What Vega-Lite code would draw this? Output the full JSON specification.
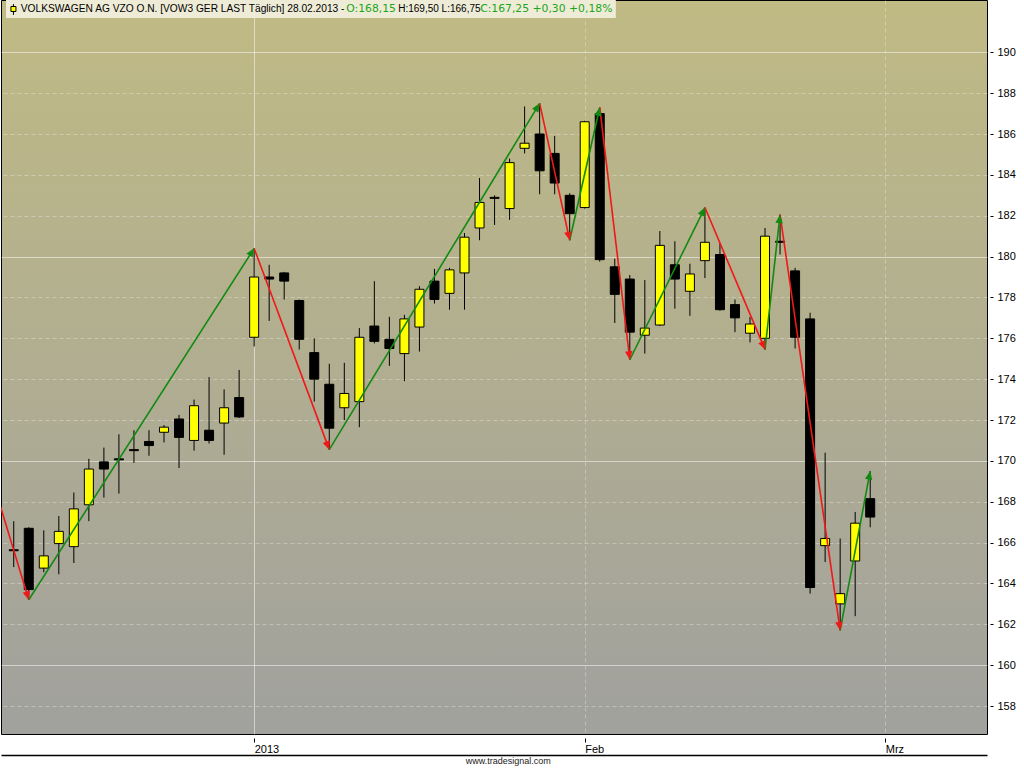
{
  "$schema": "https://vega.github.io/schema/vega-lite/v6.json",
  "width": 986,
  "height": 734,
  "padding": {"left": 1, "top": 0, "right": 0, "bottom": 0},
  "background": "#ffffff",
  "config": {
    "font": "Liberation Sans",
    "view": {
      "fill": {
        "gradient": "linear",
        "x1": 0, "y1": 0, "x2": 0, "y2": 1,
        "stops": [
          {"offset": 0, "color": "#c0ba84"},
          {"offset": 1, "color": "#a1a19e"}
        ]
      },
      "stroke": "#000000",
      "strokeWidth": 1
    }
  },
  "title": {
    "text": "www.tradesignal.com",
    "orient": "bottom",
    "anchor": "middle",
    "frame": "bounds",
    "fontSize": 9,
    "fontWeight": "normal",
    "color": "#222222",
    "baseline": "top",
    "offset": 2
  },
  "resolve": {"axis": {"x": "independent"}},
  "datasets": {
    "candles": [
      {"i": 0, "d": "2012-12-04", "o": 165.65, "h": 167.05, "l": 164.8, "c": 165.6},
      {"i": 1, "d": "2012-12-05", "o": 166.7, "h": 166.75, "l": 163.2, "c": 163.7},
      {"i": 2, "d": "2012-12-06", "o": 164.75, "h": 166.6, "l": 164.55, "c": 165.35},
      {"i": 3, "d": "2012-12-07", "o": 165.95, "h": 167.3, "l": 164.45, "c": 166.55},
      {"i": 4, "d": "2012-12-10", "o": 165.8, "h": 168.45, "l": 165.0, "c": 167.65},
      {"i": 5, "d": "2012-12-11", "o": 167.85, "h": 170.1, "l": 167.05, "c": 169.6},
      {"i": 6, "d": "2012-12-12", "o": 169.95, "h": 170.65, "l": 168.2, "c": 169.6},
      {"i": 7, "d": "2012-12-13", "o": 170.1, "h": 171.3, "l": 168.4, "c": 170.05},
      {"i": 8, "d": "2012-12-14", "o": 170.55, "h": 171.5, "l": 169.9, "c": 170.5},
      {"i": 9, "d": "2012-12-17", "o": 170.95, "h": 171.5, "l": 170.25, "c": 170.75},
      {"i": 10, "d": "2012-12-18", "o": 171.4, "h": 171.75, "l": 170.9, "c": 171.65},
      {"i": 11, "d": "2012-12-19", "o": 172.05, "h": 172.25, "l": 169.65, "c": 171.15},
      {"i": 12, "d": "2012-12-20", "o": 171.0, "h": 173.0, "l": 170.5, "c": 172.7},
      {"i": 13, "d": "2012-12-21", "o": 171.5, "h": 174.1, "l": 170.85, "c": 171.0},
      {"i": 14, "d": "2012-12-27", "o": 171.85, "h": 173.5, "l": 170.3, "c": 172.6},
      {"i": 15, "d": "2012-12-28", "o": 173.1, "h": 174.45, "l": 172.1, "c": 172.15},
      {"i": 16, "d": "2013-01-02", "o": 176.05, "h": 180.4, "l": 175.6, "c": 179.0},
      {"i": 17, "d": "2013-01-03", "o": 179.0, "h": 179.6, "l": 176.85, "c": 178.9},
      {"i": 18, "d": "2013-01-04", "o": 179.2, "h": 179.25, "l": 177.9, "c": 178.8},
      {"i": 19, "d": "2013-01-07", "o": 177.85, "h": 177.9, "l": 175.45, "c": 175.95},
      {"i": 20, "d": "2013-01-08", "o": 175.3, "h": 176.0, "l": 172.9, "c": 174.0},
      {"i": 21, "d": "2013-01-09", "o": 173.75, "h": 174.75, "l": 170.55, "c": 171.6},
      {"i": 22, "d": "2013-01-10", "o": 172.6, "h": 174.8, "l": 172.0, "c": 173.3},
      {"i": 23, "d": "2013-01-11", "o": 172.9, "h": 176.5, "l": 171.65, "c": 176.05},
      {"i": 24, "d": "2013-01-14", "o": 176.6, "h": 178.8, "l": 175.75, "c": 175.85},
      {"i": 25, "d": "2013-01-15", "o": 175.95, "h": 177.05, "l": 174.65, "c": 175.5},
      {"i": 26, "d": "2013-01-16", "o": 175.25, "h": 177.15, "l": 173.9, "c": 176.95},
      {"i": 27, "d": "2013-01-17", "o": 176.55, "h": 178.55, "l": 175.35, "c": 178.4},
      {"i": 28, "d": "2013-01-18", "o": 178.8, "h": 179.4, "l": 177.7, "c": 177.9},
      {"i": 29, "d": "2013-01-21", "o": 178.2, "h": 179.45, "l": 177.4, "c": 179.35},
      {"i": 30, "d": "2013-01-22", "o": 179.2, "h": 181.15, "l": 177.4, "c": 180.95},
      {"i": 31, "d": "2013-01-23", "o": 181.4, "h": 183.85, "l": 180.8, "c": 182.65},
      {"i": 32, "d": "2013-01-24", "o": 182.9, "h": 183.0, "l": 181.55, "c": 182.85},
      {"i": 33, "d": "2013-01-25", "o": 182.35, "h": 184.8, "l": 181.8, "c": 184.6},
      {"i": 34, "d": "2013-01-28", "o": 185.3, "h": 187.35, "l": 185.05, "c": 185.55},
      {"i": 35, "d": "2013-01-29", "o": 186.0, "h": 187.5, "l": 183.05, "c": 184.2},
      {"i": 36, "d": "2013-01-30", "o": 185.05, "h": 185.9, "l": 183.05, "c": 183.6},
      {"i": 37, "d": "2013-01-31", "o": 183.0, "h": 183.1, "l": 180.8, "c": 182.1},
      {"i": 38, "d": "2013-02-01", "o": 182.4, "h": 186.65, "l": 182.35, "c": 186.6},
      {"i": 39, "d": "2013-02-04", "o": 187.0, "h": 187.3, "l": 179.75, "c": 179.85},
      {"i": 40, "d": "2013-02-05", "o": 179.5, "h": 179.9, "l": 176.75, "c": 178.15},
      {"i": 41, "d": "2013-02-06", "o": 178.9, "h": 179.1, "l": 174.95, "c": 176.3},
      {"i": 42, "d": "2013-02-07", "o": 176.15, "h": 178.85, "l": 175.25, "c": 176.5},
      {"i": 43, "d": "2013-02-08", "o": 176.65, "h": 181.25, "l": 176.6, "c": 180.55},
      {"i": 44, "d": "2013-02-11", "o": 179.6, "h": 180.75, "l": 177.45, "c": 178.9},
      {"i": 45, "d": "2013-02-12", "o": 178.3, "h": 179.65, "l": 177.1, "c": 179.15},
      {"i": 46, "d": "2013-02-13", "o": 179.8, "h": 182.4, "l": 178.95, "c": 180.7},
      {"i": 47, "d": "2013-02-14", "o": 180.1, "h": 180.65, "l": 177.35, "c": 177.4},
      {"i": 48, "d": "2013-02-15", "o": 177.65, "h": 177.9, "l": 176.3, "c": 177.0},
      {"i": 49, "d": "2013-02-18", "o": 176.25, "h": 177.05, "l": 175.8, "c": 176.7},
      {"i": 50, "d": "2013-02-19", "o": 176.0, "h": 181.4, "l": 175.45, "c": 181.0},
      {"i": 51, "d": "2013-02-20", "o": 180.75, "h": 182.05, "l": 180.1, "c": 180.7},
      {"i": 52, "d": "2013-02-21", "o": 179.3, "h": 179.45, "l": 175.5, "c": 176.05},
      {"i": 53, "d": "2013-02-22", "o": 176.95, "h": 177.25, "l": 163.5, "c": 163.8},
      {"i": 54, "d": "2013-02-25", "o": 165.85, "h": 170.4, "l": 165.05, "c": 166.2},
      {"i": 55, "d": "2013-02-26", "o": 163.0, "h": 166.2, "l": 161.7, "c": 163.5},
      {"i": 56, "d": "2013-02-27", "o": 165.1, "h": 167.5, "l": 162.4, "c": 166.95},
      {"i": 57, "d": "2013-02-28", "o": 168.15, "h": 169.5, "l": 166.75, "c": 167.25}
    ],
    "legs": [
      {"i1": -1, "v1": 168.05, "i2": 1, "v2": 163.2, "dir": "down"},
      {"i1": 1, "v1": 163.2, "i2": 16, "v2": 180.4, "dir": "up"},
      {"i1": 16, "v1": 180.4, "i2": 21, "v2": 170.55, "dir": "down"},
      {"i1": 21, "v1": 170.55, "i2": 35, "v2": 187.5, "dir": "up"},
      {"i1": 35, "v1": 187.5, "i2": 37, "v2": 180.8, "dir": "down"},
      {"i1": 37, "v1": 180.8, "i2": 39, "v2": 187.3, "dir": "up"},
      {"i1": 39, "v1": 187.3, "i2": 41, "v2": 174.95, "dir": "down"},
      {"i1": 41, "v1": 174.95, "i2": 46, "v2": 182.4, "dir": "up"},
      {"i1": 46, "v1": 182.4, "i2": 50, "v2": 175.45, "dir": "down"},
      {"i1": 50, "v1": 175.45, "i2": 51, "v2": 182.05, "dir": "up"},
      {"i1": 51, "v1": 182.05, "i2": 55, "v2": 161.7, "dir": "down"},
      {"i1": 55, "v1": 161.7, "i2": 57, "v2": 169.5, "dir": "up"}
    ]
  },
  "layer": [
    {
      "data": {"name": "candles"},
      "mark": {"type": "rule", "color": "#000000", "strokeWidth": 1},
      "encoding": {
        "x": {
          "field": "i",
          "type": "quantitative",
          "scale": {"domain": [-0.515, 64.44], "nice": false, "zero": false},
          "axis": {
            "values": [16, 38, 58],
            "labelExpr": "datum.value == 16 ? '2013' : datum.value == 38 ? 'Feb' : 'Mrz'",
            "title": null,
            "domain": false,
            "offset": 4,
            "tickSize": 4,
            "tickColor": "#000000",
            "labelAlign": "left",
            "labelBaseline": "top",
            "labelDx": 1,
            "labelPadding": 1,
            "labelFontSize": 11,
            "labelColor": "#000000",
            "labelFlush": false,
            "labelOverlap": false,
            "grid": true,
            "gridColor": "#ffffff",
            "gridOpacity": {"condition": {"test": "datum.value == 16", "value": 0.5}, "value": 0.3},
            "gridDash": {"condition": {"test": "datum.value == 16", "value": []}, "value": [4, 3]}
          }
        },
        "y": {
          "field": "l",
          "type": "quantitative",
          "scale": {"domain": [156.63, 192.56], "nice": false, "zero": false},
          "axis": {
            "orient": "right",
            "values": [158, 160, 162, 164, 166, 168, 170, 172, 174, 176, 178, 180, 182, 184, 186, 188, 190],
            "title": "€",
            "titleAngle": 0,
            "titleAlign": "left",
            "titleBaseline": "top",
            "titleX": 2,
            "titleY": 3,
            "titleFontSize": 11,
            "titleFontWeight": "normal",
            "titleColor": "#000000",
            "domain": false,
            "offset": 3,
            "tickSize": 3,
            "tickColor": "#000000",
            "labelPadding": 4,
            "labelFontSize": 11,
            "labelColor": "#000000",
            "grid": true,
            "gridColor": "#ffffff",
            "gridOpacity": {"condition": {"test": "datum.value % 10 == 0", "value": 0.5}, "value": 0.3},
            "gridDash": {"condition": {"test": "datum.value % 10 == 0", "value": []}, "value": [4, 3]}
          }
        },
        "y2": {"field": "h"}
      }
    },
    {
      "data": {"name": "candles"},
      "mark": {"type": "bar", "size": 9, "stroke": "#000000", "strokeWidth": 1},
      "encoding": {
        "x": {
          "field": "i",
          "type": "quantitative",
          "axis": {
            "orient": "bottom",
            "offset": 21,
            "domain": true,
            "domainColor": "#000000",
            "domainWidth": 1.5,
            "ticks": false,
            "labels": false,
            "grid": false,
            "title": null
          }
        },
        "y": {"field": "o", "type": "quantitative", "title": null},
        "y2": {"field": "c"},
        "fill": {
          "condition": {"test": "datum.c > datum.o", "value": "#ffff00"},
          "value": "#000000"
        }
      }
    },
    {
      "data": {"name": "legs"},
      "mark": {"type": "rule", "strokeWidth": 1.6, "clip": true},
      "encoding": {
        "x": {"field": "i1", "type": "quantitative", "axis": null},
        "x2": {"field": "i2"},
        "y": {"field": "v1", "type": "quantitative", "title": null},
        "y2": {"field": "v2"},
        "color": {
          "field": "dir",
          "type": "nominal",
          "scale": {"domain": ["up", "down"], "range": ["#128a12", "#f01818"]},
          "legend": null
        }
      }
    },
    {
      "data": {"name": "legs"},
      "mark": {
        "type": "point",
        "filled": true,
        "opacity": 1,
        "size": 100,
        "shape": "M0,0L-0.75,1.7L0.75,1.7Z",
        "angle": {"expr": "atan2(scale('x', datum.i2) - scale('x', datum.i1), scale('y', datum.v1) - scale('y', datum.v2)) * 180 / PI"}
      },
      "encoding": {
        "x": {"field": "i2", "type": "quantitative", "axis": null},
        "y": {"field": "v2", "type": "quantitative", "title": null},
        "color": {"field": "dir", "type": "nominal", "legend": null}
      }
    },
    {
      "data": {"values": [{"box": "header"}]},
      "mark": {"type": "rect", "color": "#eeecd7"},
      "encoding": {
        "x": {"datum": -0.515, "type": "quantitative", "axis": null},
        "x2": {"datum": 40.07},
        "y": {"datum": 192.56, "type": "quantitative"},
        "y2": {"datum": 191.68}
      }
    },
    {
      "data": {"values": [{"box": "icon"}]},
      "mark": {"type": "rule", "color": "#000000", "strokeWidth": 1},
      "encoding": {
        "x": {"datum": -0.02, "type": "quantitative", "axis": null},
        "y": {"datum": 192.36, "type": "quantitative"},
        "y2": {"datum": 191.83}
      }
    },
    {
      "data": {"values": [{"box": "icon"}]},
      "mark": {"type": "point", "shape": "square", "size": 25, "filled": true, "color": "#ffff00", "stroke": "#000000", "strokeWidth": 1, "opacity": 1},
      "encoding": {
        "x": {"datum": -0.02, "type": "quantitative", "axis": null},
        "y": {"datum": 192.12, "type": "quantitative"}
      }
    },
    {
      "data": {"values": [{"txt": "VOLKSWAGEN AG VZO O.N. [VOW3 GER LAST Täglich] 28.02.2013 -"}]},
      "mark": {"type": "text", "align": "left", "baseline": "middle", "fontSize": 10.2, "color": "#000000"},
      "encoding": {
        "x": {"datum": 0.47, "type": "quantitative", "axis": null},
        "y": {"datum": 192.12, "type": "quantitative"},
        "text": {"field": "txt"}
      }
    },
    {
      "data": {"values": [{"txt": "O:168,15"}]},
      "mark": {"type": "text", "align": "left", "baseline": "middle", "font": "DejaVu Sans", "fontSize": 10.8, "color": "#1ca51c"},
      "encoding": {
        "x": {"datum": 22.13, "type": "quantitative", "axis": null},
        "y": {"datum": 192.12, "type": "quantitative"},
        "text": {"field": "txt"}
      }
    },
    {
      "data": {"values": [{"txt": "H:169,50 L:166,75"}]},
      "mark": {"type": "text", "align": "left", "baseline": "middle", "fontSize": 10, "color": "#000000"},
      "encoding": {
        "x": {"datum": 25.59, "type": "quantitative", "axis": null},
        "y": {"datum": 192.12, "type": "quantitative"},
        "text": {"field": "txt"}
      }
    },
    {
      "data": {"values": [{"txt": "C:167,25 +0,30 +0,18%"}]},
      "mark": {"type": "text", "align": "left", "baseline": "middle", "font": "DejaVu Sans", "fontSize": 10.8, "color": "#1ca51c"},
      "encoding": {
        "x": {"datum": 31.04, "type": "quantitative", "axis": null},
        "y": {"datum": 192.12, "type": "quantitative"},
        "text": {"field": "txt"}
      }
    }
  ]
}
